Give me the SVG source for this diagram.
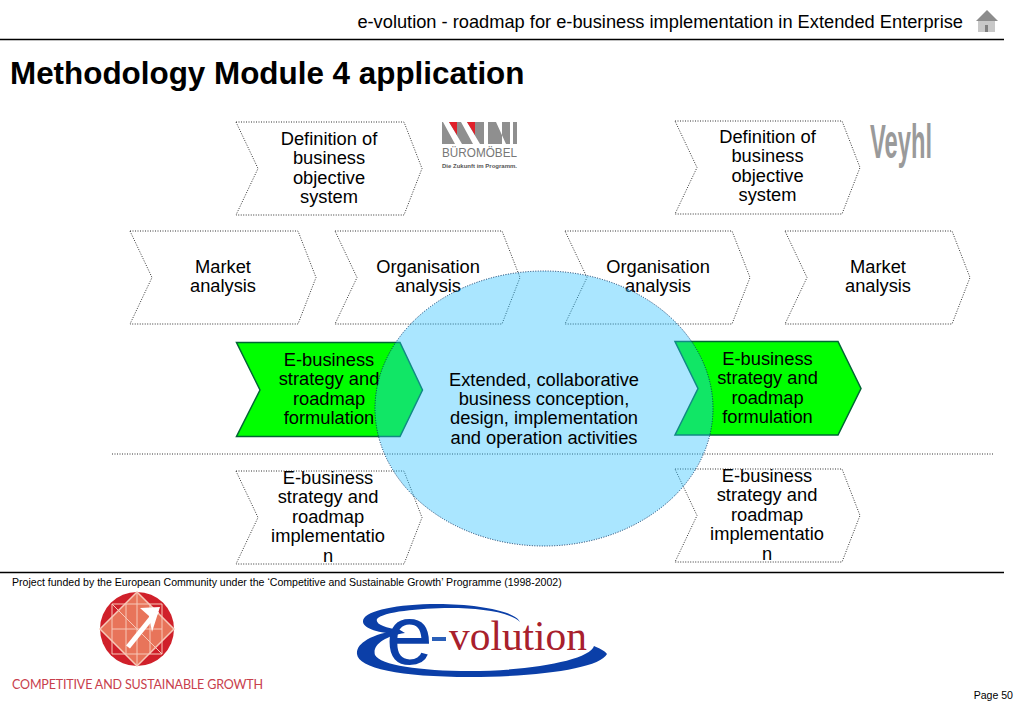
<svg xmlns="http://www.w3.org/2000/svg" width="1023" height="708" viewBox="0 0 1023 708">
<style>
text{font-family:"Liberation Sans",Arial,sans-serif;fill:#000}
.n text{font-size:18.3px;text-anchor:middle}
.d{fill:#fff;stroke:#333;stroke-width:1;stroke-dasharray:1 1.5}
.g{fill:#00ff00;stroke:#063;stroke-width:1.5}
.l{stroke:#000;stroke-width:1.3;fill:none}
</style>
<rect width="1023" height="708" fill="#fff"/>
<text x="963" y="28" font-size="18.260" text-anchor="end">e-volution - roadmap for e-business implementation in Extended Enterprise</text>
<g id="home"><polygon points="976,21 987,10 998,21" fill="#8c8c8c"/><rect x="978" y="21" width="17" height="11" fill="#c8c8c8"/><rect x="985" y="25" width="3" height="7" fill="#808080"/></g>
<g id="connectors"><path class="l" d="M0 39.500H1004M0 572.500H1004"/><path d="M112 454H993" stroke="#333" stroke-dasharray="1 1.500" fill="none"/></g>
<text x="10" y="84" font-size="31.400" font-weight="700">Methodology Module 4 application</text>

<g id="n1" class="n"><polygon class="d" points="236,122 404,122 422,168.500 404,215 236,215 258,168.500"/><text x="329" y="145">Definition of</text><text x="329" y="164.400">business</text><text x="329" y="183.800">objective</text><text x="329" y="203.200">system</text></g>
<g id="n2" class="n"><polygon class="d" points="675,121 842,121 860,167.500 842,214 675,214 697,167.500"/><text x="767.500" y="143">Definition of</text><text x="767.500" y="162.400">business</text><text x="767.500" y="181.800">objective</text><text x="767.500" y="201.200">system</text></g>
<g id="n3" class="n"><polygon class="d" points="130,231 298,231 316,277.500 298,324 130,324 152,277.500"/><text x="223" y="273">Market</text><text x="223" y="292.400">analysis</text></g>
<g id="n4" class="n"><polygon class="d" points="335,231 502,231 520,277.500 502,324 335,324 357,277.500"/><text x="428" y="273">Organisation</text><text x="428" y="292.400">analysis</text></g>
<g id="n5" class="n"><polygon class="d" points="565,231 732,231 750,277.500 732,324 565,324 587,277.500"/><text x="658" y="273">Organisation</text><text x="658" y="292.400">analysis</text></g>
<g id="n6" class="n"><polygon class="d" points="785,231 952,231 970,277.500 952,324 785,324 807,277.500"/><text x="878" y="273">Market</text><text x="878" y="292.400">analysis</text></g>
<g id="n7" class="n"><polygon class="g" points="236.500,342.500 400,342.500 422.500,390 400,436.500 236.500,436.500 260,390"/><text x="329" y="366">E-business</text><text x="329" y="385.400">strategy and</text><text x="329" y="404.800">roadmap</text><text x="329" y="424.200">formulation</text></g>
<g id="n8" class="n"><polygon class="g" points="675,341.500 838,341.500 861,388.500 838,435 675,435 698,388.500"/><text x="767.500" y="365">E-business</text><text x="767.500" y="384.400">strategy and</text><text x="767.500" y="403.800">roadmap</text><text x="767.500" y="423.200">formulation</text></g>
<g id="n9" class="n"><polygon class="d" points="236,471 404,471 422,517.500 404,564 236,564 258,517.500"/><text x="328" y="484">E-business</text><text x="328" y="503.400">strategy and</text><text x="328" y="522.800">roadmap</text><text x="328" y="542.200">implementatio</text><text x="328" y="561.600">n</text></g>
<g id="n10" class="n"><polygon class="d" points="675,469 842,469 860,515.500 842,562 675,562 697,515.500"/><text x="767" y="482">E-business</text><text x="767" y="501.400">strategy and</text><text x="767" y="520.800">roadmap</text><text x="767" y="540.200">implementatio</text><text x="767" y="559.600">n</text></g>

<g id="n11" class="n"><ellipse cx="544" cy="408.500" rx="169" ry="137.500" fill="#2ac0ff" fill-opacity=".4" stroke="#036" stroke-width="1" stroke-dasharray="1 1.500"/><text x="544" y="385.500">Extended, collaborative</text><text x="544" y="404.900">business conception,</text><text x="544" y="424.300">design, implementation</text><text x="544" y="443.700">and operation activities</text></g>

<text x="12" y="586" font-size="10.570">Project funded by the European Community under the ‘Competitive and Sustainable Growth’ Programme (1998-2002)</text>
<text x="1013" y="699" font-size="10.570" text-anchor="end">Page 50</text>

<g id="logo-wini">
<rect x="442" y="122" width="75" height="22" fill="#8f8f8f"/>
<path d="M443 122h6l13 22h-7zM461 122h6l13 22h-7z" fill="#fff"/>
<path d="M449 122h8v13zM467 122h8v13z" fill="#e0212b"/>
<path d="M484 122h4v22h-4zM492 122h4l10 22h-4v-22h-10zM510 122h3v22h-3z" fill="#fff"/>
<text x="442" y="157" font-size="13.500" textLength="75" lengthAdjust="spacingAndGlyphs" style="fill:#777">BÜROMÖBEL</text>
<text x="442" y="168" font-size="6" font-weight="700" textLength="75" lengthAdjust="spacingAndGlyphs" style="fill:#555">Die Zukunft im Programm.</text>
</g>
<g id="logo-veyhl"><text x="870" y="158" font-size="48" font-weight="700" textLength="62" lengthAdjust="spacingAndGlyphs" style="fill:#9a9a9a">Veyhl</text></g>
<g id="logo-csg">
<circle cx="137" cy="629" r="37" fill="#d0202a"/>
<polygon points="137,592 174,629 137,666 100,629" fill="#e8745a" stroke="#f7c8b8" stroke-width="1.500"/>
<path d="M112 604H162V654H112ZM112 629H162M137 592V666M112 604L162 654M126 604V654M150 604V654" stroke="#f7c8b8" stroke-width="1" fill="none"/>
<path d="M128 647L157 611" stroke="#fff" stroke-width="5" fill="none"/>
<polygon points="140,608 160,607 152,632 149,616" fill="#fff"/>
<text x="12" y="689" font-size="12.500" textLength="251" style="font-family:Lato,sans-serif;fill:#c8404c">COMPETITIVE AND SUSTAINABLE GROWTH</text>
</g>
<g id="logo-evolution">
<path d="M520 622C515 610 470 603 430 604C390 605 362 612 363 622C364 630 385 634 400 634L400 630C385 628 375 624 377 619C382 612 420 608 450 608C480 608 510 612 520 622Z" fill="#0b3fa8"/>
<path d="M400 630C370 634 356 644 357 654C358 668 400 677 470 677C540 677 600 668 607 654C604 650 598 648 594 646C590 660 530 671 470 671C420 671 380 665 375 655C372 645 385 636 405 633Z" fill="#0b3fa8"/>
<text x="386" y="664" font-size="84" style="fill:#0b3fa8">e</text>
<rect x="432" y="637" width="14" height="4" fill="#2a5fb8"/>
<text x="449" y="650" font-size="42" textLength="138" lengthAdjust="spacingAndGlyphs" style="font-family:'Liberation Serif',serif;fill:#a8202c">volution</text>
</g>
</svg>
